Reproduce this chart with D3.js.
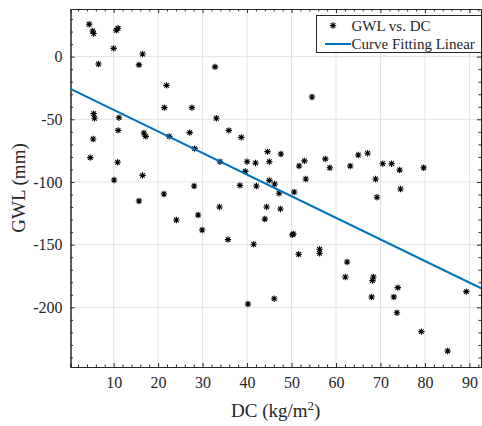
<!DOCTYPE html>
<html lang="en">
<head>
  <meta charset="UTF-8">
  <title>GWL vs. DC</title>
  <script src="https://d3js.org/d3.v7.min.js"></script>
  <style>
    body { margin: 0; background: #fff; }
  </style>
</head>
<body>
<div id="chart"></div>
<script>
  // DC (kg/m^2) and GWL (mm)
  const dcValues = [4.5, 5.3, 5.5, 10.6, 11.0, 10.0, 16.5, 6.6, 15.7, 32.8, 21.9, 54.6, 21.4, 27.6, 5.5, 5.7, 11.2, 33.1,
    11.0, 35.9, 27.1, 16.8, 17.2, 22.5, 38.7, 5.4, 28.2, 44.6, 47.6, 65.0, 67.1, 4.75, 57.6, 33.9, 10.9, 40.0, 41.9,
    45.0, 52.9, 51.7, 63.2, 58.6, 70.5, 72.5, 79.7, 74.3, 39.6, 16.5, 10.1, 53.2, 68.9, 45.0, 46.2, 38.4, 28.1, 42.1,
    74.5, 50.6, 47.2, 21.3, 69.2, 15.7, 33.8, 44.4, 47.5, 29.0, 44.0, 24.1, 29.9, 50.2, 50.4, 35.7, 41.5, 56.3, 56.3,
    51.6, 62.5, 62.1, 68.4, 68.2, 73.9, 89.3, 68.0, 73.0, 46.1, 40.2, 73.7, 79.2, 85.1];
  const gwlValues = [25.8, 20.5, 18.4, 21.0, 22.6, 6.6, 2.1, -5.9, -6.6, -8.2, -22.9, -32.2, -40.7, -40.7, -45.5, -49.2,
    -48.7, -49.2, -58.8, -58.8, -60.6, -60.9, -63.6, -63.6, -64.4, -65.7, -73.4, -75.8, -77.7, -78.5, -77.1, -80.6,
    -81.6, -83.8, -84.3, -83.8, -84.8, -83.8, -83.2, -87.2, -87.2, -88.6, -85.4, -85.4, -88.6, -90.4, -91.5, -94.7,
    -98.4, -97.6, -97.6, -98.7, -101.6, -102.7, -103.2, -103.2, -105.6, -108.0, -109.0, -109.6, -112.2, -115.2,
    -119.9, -119.9, -121.5, -126.3, -129.5, -130.3, -138.3, -142.2, -141.4, -146.0, -149.7, -153.7, -156.9, -157.7,
    -163.8, -175.8, -175.8, -178.7, -184.3, -187.5, -191.8, -191.8, -193.1, -197.3, -204.3, -219.4, -234.8];

  // fitted line
  const fitSlope = -1.7226;
  const fitIntercept = -25.28;

  const xTicks = [10, 20, 30, 40, 50, 60, 70, 80, 90];
  const yTicks = [0, -50, -100, -150, -200];
  const legendLabels = ["GWL vs. DC", "Curve Fitting Linear"];

  const serif = '"Liberation Serif", "Times New Roman", serif';
  const ink = "#262626";

  const width = 482, height = 426;
  const margin = { top: 9, right: 1, bottom: 59, left: 70.5 };
  const innerW = width - margin.left - margin.right;
  const innerH = height - margin.top - margin.bottom;

  const svg = d3.select("#chart").append("svg")
    .attr("width", width)
    .attr("height", height);

  const g = svg.append("g")
    .attr("transform", `translate(${margin.left},${margin.top})`);

  const x = d3.scaleLinear().domain([0.3, 92.6]).range([0, innerW]);
  const y = d3.scaleLinear().domain([-247.6, 38]).range([innerH, 0]);

  // grid
  g.append("g").selectAll("line").data(xTicks).enter().append("line")
    .attr("x1", d => x(d)).attr("x2", d => x(d))
    .attr("y1", 0).attr("y2", innerH)
    .attr("stroke", "#e3e3e3").attr("stroke-width", 1);
  g.append("g").selectAll("line").data(yTicks).enter().append("line")
    .attr("y1", d => y(d)).attr("y2", d => y(d))
    .attr("x1", 0).attr("x2", innerW)
    .attr("stroke", "#e3e3e3").attr("stroke-width", 1);

  // minor ticks
  const xMinor = d3.range(2, 93, 2).filter(d => d % 10 !== 0);
  const yMinor = d3.range(30, -250, -10).filter(d => d % 50 !== 0);

  // axes (ticks inward, box on)
  const xAxis = d3.axisBottom(x).tickValues(xTicks).tickSize(-4).tickPadding(10).tickFormat(d3.format("d"));
  const yAxis = d3.axisLeft(y).tickValues(yTicks).tickSize(-4).tickPadding(8).tickFormat(d => d < 0 ? "-" + Math.abs(d) : d);

  const gx = g.append("g").attr("transform", `translate(0,${innerH})`).call(xAxis);
  const gy = g.append("g").call(yAxis);
  const gTop = g.append("g").call(d3.axisTop(x).tickValues(xTicks).tickSize(-4).tickFormat(""));
  const gRight = g.append("g").attr("transform", `translate(${innerW},0)`)
    .call(d3.axisRight(y).tickValues(yTicks).tickSize(-4).tickFormat(""));

  gx.append("g").call(d3.axisBottom(x).tickValues(xMinor).tickSize(-2.5).tickFormat(""));
  gTop.append("g").call(d3.axisTop(x).tickValues(xMinor).tickSize(-2.5).tickFormat(""));
  gy.append("g").call(d3.axisLeft(y).tickValues(yMinor).tickSize(-2.5).tickFormat(""));
  gRight.append("g").call(d3.axisRight(y).tickValues(yMinor).tickSize(-2.5).tickFormat(""));

  [gx, gy, gTop, gRight].forEach(a => {
    a.attr("font-family", serif).attr("font-size", 16);
    a.selectAll("path.domain").attr("stroke", ink).attr("stroke-width", 1);
    a.selectAll(".tick line").attr("stroke", ink);
    a.selectAll("text").style("font-family", serif).style("font-size", "16px").attr("fill", ink);
  });

  // scatter points (asterisks)
  const star = "M-3.2,0H3.2M0,-3.2V3.2M-2.3,-2.3L2.3,2.3M-2.3,2.3L2.3,-2.3";
  g.append("g").selectAll("path").data(dcValues).enter().append("path")
    .attr("d", star)
    .attr("transform", (d, i) => `translate(${x(d)},${y(gwlValues[i])})`)
    .attr("stroke", "#000").attr("stroke-width", 1.1).attr("fill", "none");

  // fitted line
  const xr = x.domain();
  g.append("line")
    .attr("x1", x(xr[0])).attr("y1", y(fitIntercept + fitSlope * xr[0]))
    .attr("x2", x(xr[1])).attr("y2", y(fitIntercept + fitSlope * xr[1]))
    .attr("stroke", "#0072BD").attr("stroke-width", 2);

  // axis labels
  svg.append("text")
    .attr("x", margin.left + innerW / 2).attr("y", 417)
    .attr("text-anchor", "middle")
    .style("font-family", serif).style("font-size", "19px").attr("fill", ink)
    .html('DC (kg/m<tspan dy="-7" style="font-size:13px">2</tspan><tspan dy="7">)</tspan>');
  svg.append("text")
    .attr("transform", `translate(25,188) rotate(-90)`)
    .attr("text-anchor", "middle")
    .style("font-family", serif).style("font-size", "19px").attr("fill", ink)
    .text("GWL (mm)");

  // legend
  const lg = svg.append("g");
  lg.append("rect")
    .attr("x", 316.5).attr("y", 15.5).attr("width", 165).attr("height", 37)
    .attr("fill", "#fff").attr("stroke", ink).attr("stroke-width", 1);
  lg.append("path").attr("d", star).attr("transform", "translate(333,25.5)")
    .attr("stroke", "#000").attr("stroke-width", 1.1).attr("fill", "none");
  lg.append("line").attr("x1", 325).attr("x2", 351).attr("y1", 44).attr("y2", 44)
    .attr("stroke", "#0072BD").attr("stroke-width", 2);
  lg.selectAll("text.leg").data(legendLabels).enter().append("text")
    .attr("class", "leg")
    .attr("x", 351.5).attr("y", (d, i) => 31 + i * 18)
    .style("font-family", serif).style("font-size", "15px").attr("fill", ink)
    .text(d => d);
</script>
</body>
</html>
